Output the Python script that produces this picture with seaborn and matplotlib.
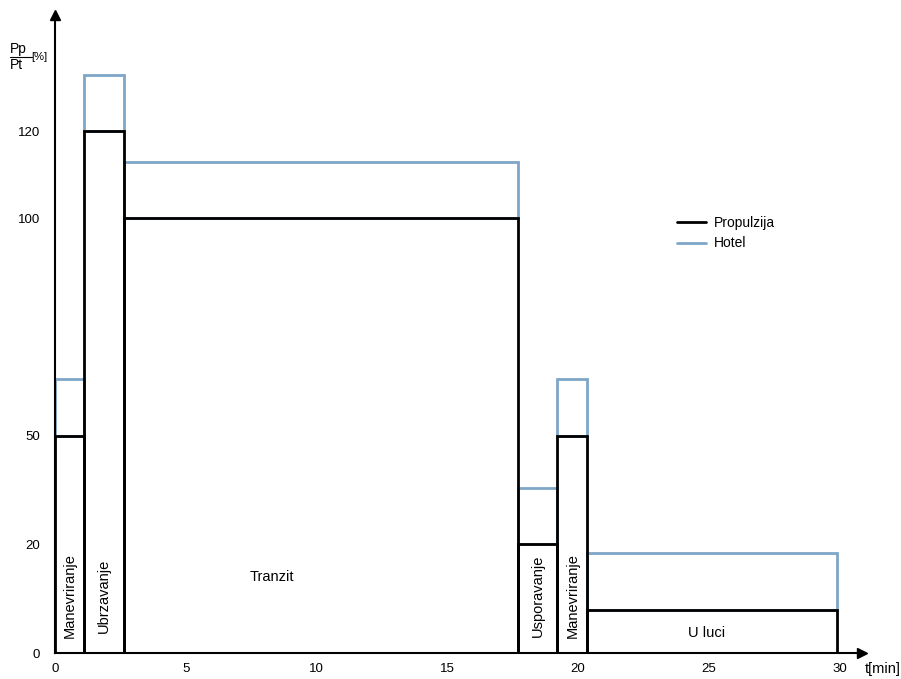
"""
Profil opterećenja: propulzija i hotelsko opterećenje po fazama plovidbe.
"""

import numpy as np
import matplotlib.pyplot as plt
import seaborn as sns
from matplotlib.lines import Line2D

sns.set_style("white")
plt.rcParams['font.family'] = ['Liberation Sans', 'DejaVu Sans']
plt.rcParams['text.color'] = 'black'
plt.rcParams['xtick.color'] = 'black'
plt.rcParams['ytick.color'] = 'black'

# faze plovidbe
faze = ['Manevriranje', 'Ubrzavanje', 'Tranzit', 'Usporavanje', 'Manevriranje', 'U luci']
t_pocetak = [0, 1.1, 2.65, 17.7, 19.2, 20.35]
t_kraj = [1.1, 2.65, 17.7, 19.2, 20.35, 29.9]
propulzija = [50, 120, 100, 25, 50, 10]
hotel = [13, 13, 13, 13, 13, 13]

y_tick_pos = [0, 25, 50, 100, 120]
y_tick_lab = ['0', '20', '50', '100', '120']
x_ticks = [0, 5, 10, 15, 20, 25, 30]

CRNA = 'black'
PLAVA = '#7fa6c8'

fig = plt.figure(figsize=(9.01, 6.79), dpi=100)
ax = fig.add_axes([55 / 901, 1 - 653 / 679, (862 - 55) / 901, (653 - 15) / 679])

sirina = np.array(t_kraj) - np.array(t_pocetak)

# hotel iznad propulzije
ax.bar(t_pocetak, hotel, width=sirina, bottom=propulzija, align='edge',
       fill=False, edgecolor=PLAVA, linewidth=2, zorder=2)
# propulzija
ax.bar(t_pocetak, propulzija, width=sirina, align='edge',
       fill=False, edgecolor=CRNA, linewidth=2, zorder=3)

# natpisi faza
for i, naziv in enumerate(faze):
    xc = (t_pocetak[i] + t_kraj[i]) / 2
    if naziv == 'Tranzit':
        ax.text(8.3, 17.5, naziv, ha='center', va='center', fontsize=10.5)
    elif naziv == 'U luci':
        ax.text(24.9, 4.5, naziv, ha='center', va='center', fontsize=10.5)
    else:
        ax.text(xc, 13.2, naziv, rotation=90, ha='center', va='center', fontsize=10.5)

ax.set_xlim(0, 30.85)
ax.set_ylim(0, 146.7)
ax.set_xticks(x_ticks)
ax.set_yticks(y_tick_pos)
ax.set_yticklabels(y_tick_lab)
ax.tick_params(axis='both', length=0, labelsize=9.5)
ax.tick_params(axis='x', pad=7)
ax.tick_params(axis='y', pad=11)

sns.despine(ax=ax)
for s in ['left', 'bottom']:
    ax.spines[s].set_linewidth(1.5)
    ax.spines[s].set_color(CRNA)

# strelice osi
ax.plot(1, 0, '>', color=CRNA, markersize=7, transform=ax.transAxes, clip_on=False)
ax.plot(0, 1, '^', color=CRNA, markersize=7, transform=ax.transAxes, clip_on=False)

# oznake osi
fig.text(10 / 901, 1 - 53 / 679, 'Pp', ha='left', va='baseline', fontsize=10)
fig.add_artist(Line2D([10 / 901, 32 / 901], [1 - 56.5 / 679, 1 - 56.5 / 679], color=CRNA, linewidth=0.8))
fig.text(10 / 901, 1 - 69 / 679, 'Pt', ha='left', va='baseline', fontsize=10)
fig.text(39 / 901, 1 - 57 / 679, '[%]', ha='center', va='center', fontsize=8)
fig.text(883 / 901, 1 - 669 / 679, 't[min]', ha='center', va='center', fontsize=10.5)

# legenda
handles = [Line2D([], [], color=CRNA, linewidth=2), Line2D([], [], color=PLAVA, linewidth=2)]
fig.legend(handles, ['Propulzija', 'Hotel'], loc='upper left',
           bbox_to_anchor=(664 / 901, 1 - 203 / 679), frameon=False,
           fontsize=10, handlelength=2.1, labelspacing=0.5, handletextpad=0.6)

plt.savefig('out.png', dpi=100)
plt.close()
